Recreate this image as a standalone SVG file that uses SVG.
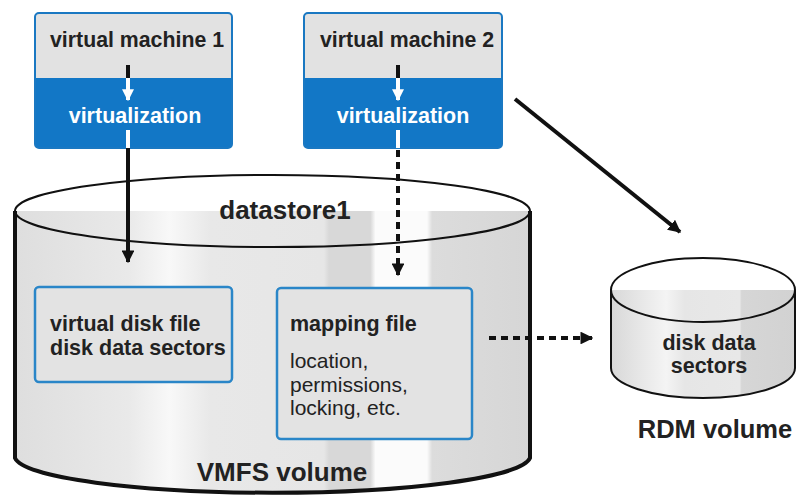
<svg xmlns="http://www.w3.org/2000/svg" width="797" height="495" viewBox="0 0 797 495">
<style>
text{font-family:"Liberation Sans",Arial,sans-serif;fill:#222}
.b{font-weight:bold}
.vmtop{fill:#e2e2e2}
.vmbot{fill:#1277c6}
.vmframe{fill:none;stroke:#1a78c2;stroke-width:2}
.file{fill:#e3e3e3;stroke:#2a86c8;stroke-width:2.5}
.edge{fill:none;stroke:#111;stroke-width:4}
.thin{fill:none;stroke:#111;stroke-width:2}
.solid{fill:none;stroke:#111;stroke-width:4}
.dash{fill:none;stroke:#111;stroke-width:4;stroke-dasharray:7,5}
.white{fill:none;stroke:#fff;stroke-width:4}
</style>
<defs>
<linearGradient id="body" x1="0" y1="0" x2="1" y2="0">
<stop offset="0" stop-color="#dedede"/>
<stop offset="0.22" stop-color="#e9e9e9"/>
<stop offset="0.3" stop-color="#f8f8f8"/>
<stop offset="0.38" stop-color="#e8e8e8"/>
<stop offset="0.6" stop-color="#e6e6e6"/>
<stop offset="0.61" stop-color="#d8d8d8"/>
<stop offset="0.69" stop-color="#d8d8d8"/>
<stop offset="0.7" stop-color="#fbfbfb"/>
<stop offset="0.8" stop-color="#fbfbfb"/>
<stop offset="0.81" stop-color="#dcdcdc"/>
<stop offset="1" stop-color="#d6d6d6"/>
</linearGradient>
<linearGradient id="top" x1="0" y1="0" x2="1" y2="0">
<stop offset="0" stop-color="#dcdcdc"/>
<stop offset="0.5" stop-color="#f4f4f4"/>
<stop offset="1" stop-color="#ffffff"/>
</linearGradient>
<linearGradient id="rbody" x1="0" y1="0" x2="1" y2="0">
<stop offset="0" stop-color="#d8d8d8"/>
<stop offset="0.3" stop-color="#f4f4f4"/>
<stop offset="0.4" stop-color="#e6e6e6"/>
<stop offset="0.7" stop-color="#e8e8e8"/>
<stop offset="0.71" stop-color="#d6d6d6"/>
<stop offset="1" stop-color="#d2d2d2"/>
</linearGradient>
<marker id="ah" viewBox="0 0 10 10" refX="9" refY="5" markerWidth="3.2" markerHeight="3.2" markerUnits="strokeWidth" orient="auto">
<path d="M0,0 L10,5 L0,10 z" fill="#111"/>
</marker>
<marker id="ahw" viewBox="0 0 10 10" refX="9" refY="5" markerWidth="3" markerHeight="3" markerUnits="strokeWidth" orient="auto">
<path d="M0,0 L10,5 L0,10 z" fill="#fff"/>
</marker>
</defs>

<g id="datastore1">
<path d="M15,211 L15,458 A258,37 0 0 0 530,458 L530,211 Z" fill="url(#body)"/>
<path class="edge" d="M15,211 L15,458 A258,37 0 0 0 530,458 L530,211"/>
<ellipse cx="272.5" cy="211" rx="257.5" ry="36" fill="url(#top)" class="thin"/>
<text class="b" x="285" y="219" font-size="26" text-anchor="middle">datastore1</text>
<text class="b" x="282" y="481" font-size="26" text-anchor="middle">VMFS volume</text>
</g>

<g id="rdm">
<path d="M611,290 L611,368 A92,30 0 0 0 795,368 L795,290 Z" fill="url(#rbody)"/>
<path class="thin" d="M611,290 L611,368 A92,30 0 0 0 795,368 L795,290"/>
<ellipse cx="703" cy="290" rx="92" ry="32" fill="url(#top)" class="thin"/>
<text class="b" x="709" y="350" font-size="21.5" text-anchor="middle">disk data</text>
<text class="b" x="709" y="373" font-size="21.5" text-anchor="middle">sectors</text>
<text class="b" x="715" y="438" font-size="25.5" text-anchor="middle">RDM volume</text>
</g>

<g id="vm1">
<path class="vmtop" d="M35,78 L35,17 Q35,13 39,13 L228,13 Q232,13 232,17 L232,78 Z"/>
<path class="vmbot" d="M35,78 L232,78 L232,144 Q232,148 228,148 L39,148 Q35,148 35,144 Z"/>
<rect class="vmframe" x="35" y="13" width="197" height="135" rx="4"/>
<text class="b" x="137" y="47" font-size="21.3" text-anchor="middle">virtual machine 1</text>
<text class="b" x="135" y="123" font-size="21.5" text-anchor="middle" style="fill:#fff">virtualization</text>
</g>

<g id="vm2">
<path class="vmtop" d="M304,78 L304,17 Q304,13 308,13 L498,13 Q502,13 502,17 L502,78 Z"/>
<path class="vmbot" d="M304,78 L502,78 L502,144 Q502,148 498,148 L308,148 Q304,148 304,144 Z"/>
<rect class="vmframe" x="304" y="13" width="198" height="135" rx="4"/>
<text class="b" x="407" y="47" font-size="21.3" text-anchor="middle">virtual machine 2</text>
<text class="b" x="403" y="123" font-size="21.5" text-anchor="middle" style="fill:#fff">virtualization</text>
</g>

<g id="vdisk">
<rect class="file" x="35" y="287" width="197" height="95" rx="4"/>
<text class="b" x="50" y="331" font-size="21.5">virtual disk file</text>
<text class="b" x="50" y="355" font-size="21.5">disk data sectors</text>
</g>

<g id="mapping">
<rect class="file" x="277" y="288" width="195" height="151" rx="4"/>
<text class="b" x="290" y="331" font-size="21.5">mapping file</text>
<text x="290" y="368" font-size="21">location,</text>
<text x="290" y="392" font-size="21">permissions,</text>
<text x="290" y="415" font-size="21">locking, etc.</text>
</g>

<g id="connectors">
<line class="solid" x1="128" y1="65" x2="128" y2="78"/>
<line class="white" x1="128" y1="78" x2="128" y2="100" marker-end="url(#ahw)"/>
<line class="white" x1="128" y1="130" x2="128" y2="148"/>
<line class="solid" x1="128" y1="148" x2="128" y2="262" marker-end="url(#ah)"/>
<line class="solid" x1="398" y1="65" x2="398" y2="78"/>
<line class="white" x1="398" y1="78" x2="398" y2="100" marker-end="url(#ahw)"/>
<line class="white" x1="398" y1="130" x2="398" y2="148"/>
<line class="dash" x1="398" y1="150" x2="398" y2="275" marker-end="url(#ah)"/>
<line class="solid" x1="515" y1="99" x2="680" y2="232" marker-end="url(#ah)"/>
<line class="dash" x1="489" y1="338" x2="592" y2="338" marker-end="url(#ah)"/>
</g>
</svg>
